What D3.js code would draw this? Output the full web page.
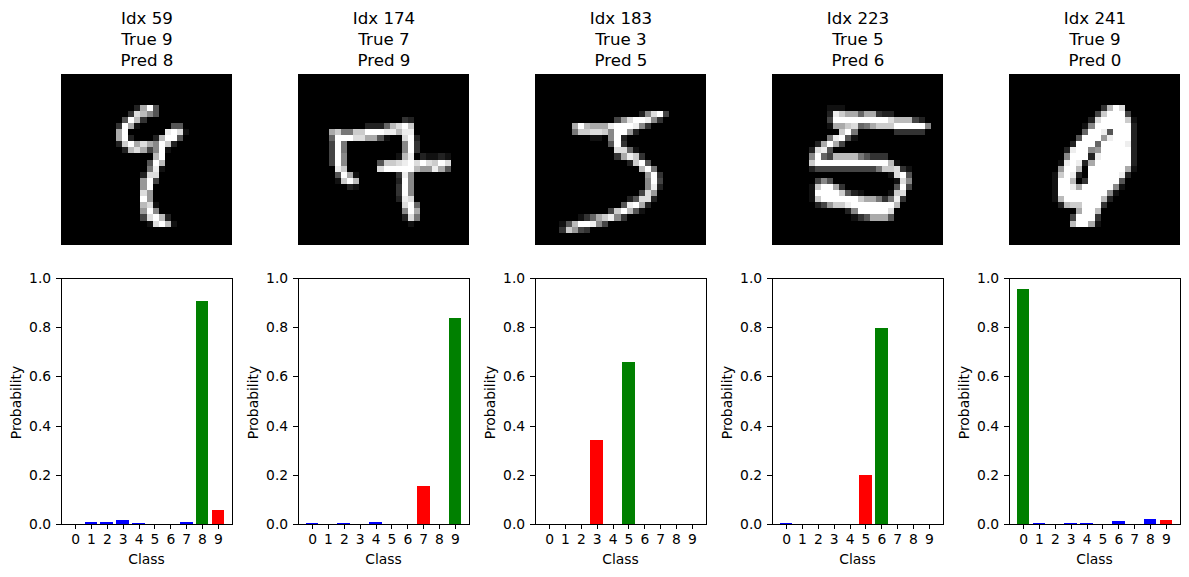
<!DOCTYPE html>
<html>
<head>
<meta charset="utf-8">
<script src="https://cdn.jsdelivr.net/npm/d3@7/dist/d3.min.js"></script>
<style>
html,body{margin:0;padding:0;background:#fff;}
svg{display:block;font-family:"DejaVu Sans",sans-serif;}
</style>
</head>
<body>
<svg id="chart" width="1189" height="577"></svg>
<script>
const sampleIdx = [59, 174, 183, 223, 241];
const trueLabels = [9, 7, 3, 5, 9];
const predLabels = [8, 9, 5, 6, 0];
const classes = [0, 1, 2, 3, 4, 5, 6, 7, 8, 9];
const yTicks = [0, 0.2, 0.4, 0.6, 0.8, 1.0];

const probs59  = [0, 0.008, 0.008, 0.016, 0.004, 0, 0, 0.008, 0.905, 0.057];
const probs174 = [0.004, 0, 0.004, 0, 0.008, 0, 0, 0.155, 0, 0.837];
const probs183 = [0, 0, 0, 0.34, 0, 0.66, 0, 0, 0, 0];
const probs223 = [0.004, 0, 0, 0, 0, 0.198, 0.797, 0, 0, 0];
const probs241 = [0.955, 0.004, 0, 0.004, 0.004, 0, 0.012, 0, 0.02, 0.016];
const allProbs = [probs59, probs174, probs183, probs223, probs241];

// Each row: [row, first column, grey levels 0-f for consecutive pixels]
const digit59 = [
 [5,12,"2af5"],[6,11,"3db85"],[7,10,"5fb3"],[8,9,"3fa1"],[8,18,"55"],
 [9,9,"af"],[9,17,"efd1"],[10,9,"af2"],[10,15,"2bff5"],
 [11,9,"2cfada8fc2"],[12,10,"2bda48f1"],[13,15,"bf"],[14,14,"5fb"],
 [15,14,"7e1"],[16,13,"2dd"],[17,13,"9f4"],[18,13,"9f"],[19,13,"d9"],
 [20,13,"f9"],[21,13,"bd1"],[22,13,"9f8"],[23,13,"4dfb2"],[24,14,"1dfb1"]
];
const digit174 = [
 [7,17,"32"],[8,11,"2226bdfc"],[9,5,"ac77ccfffeebee"],
 [10,5,"6fffddaa51"],[10,17,"df2"],[11,5,"4f7"],[11,17,"8f3"],
 [12,5,"4f7"],[12,17,"8f3"],[13,5,"4f8"],[13,16,"1be021121"],
 [14,5,"4f8"],[14,13,"5ccdefdfdcfd"],[15,6,"ec"],[15,13,"dfffffb99ea5"],
 [16,6,"5fa1"],[16,16,"3e8"],[17,6,"1cfb"],[17,16,"2f8"],[18,8,"21"],
 [18,16,"3f8"],[19,16,"3f8"],[20,16,"2ed"],[21,17,"df6"],[22,17,"8fa"],
 [23,17,"2d7"],[24,18,"1"]
];
const digit183 = [
 [6,17,"28df4"],[7,13,"49dffe83"],[8,6,"afbaaaefffe83"],
 [9,6,"7ccddc8ff92"],[10,9,"11"],[10,12,"8f2"],[11,12,"5f3"],
 [12,13,"dd61"],[13,13,"3aec3"],[14,15,"2cf5"],[15,17,"bf7"],
 [16,18,"9f3"],[17,18,"8f4"],[18,18,"8e2"],[19,17,"4d9"],
 [20,15,"25dd2"],[21,14,"5efa2"],[22,12,"4cfb51"],[23,7,"136ace83"],
 [24,4,"15bffe84"],[25,4,"3c943"]
];
const digit223 = [
 [5,9,"111"],[6,9,"2ecaa6aa322"],[7,9,"4fffffffffdbbb42"],
 [8,9,"1aacd67acccfffff8"],[9,11,"cf7"],[9,20,"33333"],
 [10,9,"7ef51"],[11,7,"2afa4"],[12,6,"2de5"],
 [13,6,"8f64bbbb75333"],[14,6,"cffffffffffffb1"],
 [15,6,"244444444447ccd31"],[16,19,"1df5"],[17,7,"485"],[17,20,"1d8"],
 [18,6,"1cffa3"],[18,20,"5f4"],[19,6,"1ffffc521"],[19,19,"1cd"],
 [20,6,"1cffffffcaa737e3"],[21,7,"249ccefffffffb"],
 [22,12,"28fffffd"],[23,13,"135aaa5"]
];
const digit241 = [
 [5,15,"3bfd"],[6,14,"4cfff4"],[7,13,"2dffffc1"],[8,12,"18ffffff2"],
 [9,12,"6ffe5fff2"],[10,11,"5fff9efff2"],[11,10,"2fff6ffffe2"],
 [12,9,"2eff89fffff2"],[13,9,"8fff2efffff2"],[14,8,"1efe2affffff2"],
 [15,8,"9ffb0ffffffa1"],[16,7,"1cfe20fffffe2"],[17,7,"1ffb03fffff5"],
 [18,7,"1ffeafffff81"],[19,7,"1ffffffff81"],[20,7,"1bffffffb2"],
 [21,8,"2bccfff3"],[22,11,"affb"],[23,10,"4fff3"],[24,10,"bffa1"]
];
const allDigits = [digit59, digit174, digit183, digit223, digit241];

const panelLefts = [61, 298, 535, 772, 1009];
const panelSize = 171;
const imgTop = 74;
const barTop = 278, barBottom = 524;
const titleSize = 16.67, tickSize = 13.89, labelSize = 13.89;

const svg = d3.select("#chart");
const pixel = d3.scaleLinear().domain([0, 28]).range([0, panelSize]);
const grey = d3.scaleLinear().domain([0, 15]).range([0, 255]);
const yScale = d3.scaleLinear().domain([0, 1]).range([barBottom, barTop]);

sampleIdx.forEach((idx, p) => {
  const left = panelLefts[p];
  const gImg = svg.append("g").attr("transform", `translate(${left},${imgTop})`);
  gImg.append("rect").attr("width", panelSize).attr("height", panelSize).attr("fill", "#000");

  const cells = [];
  allDigits[p].forEach(([r, c, s]) => {
    Array.from(s).forEach((ch, i) => {
      const v = parseInt(ch, 16);
      if (v > 0) cells.push({ r, c: c + i, v });
    });
  });
  gImg.selectAll("rect.cell").data(cells).enter().append("rect")
    .attr("class", "cell")
    .attr("shape-rendering", "crispEdges")
    .attr("x", d => Math.round(pixel(d.c)))
    .attr("y", d => Math.round(pixel(d.r)))
    .attr("width", d => Math.round(pixel(d.c + 1)) - Math.round(pixel(d.c)))
    .attr("height", d => Math.round(pixel(d.r + 1)) - Math.round(pixel(d.r)))
    .attr("fill", d => { const g = Math.round(grey(d.v)); return `rgb(${g},${g},${g})`; });

  const titleLines = [`Idx ${idx}`, `True ${trueLabels[p]}`, `Pred ${predLabels[p]}`];
  svg.append("g").selectAll("text").data(titleLines).enter().append("text")
    .attr("x", left + panelSize / 2 + 0.5)
    .attr("y", (d, i) => 24 + i * 21)
    .attr("text-anchor", "middle")
    .attr("font-size", titleSize)
    .attr("fill", "#000")
    .text(d => d);

  const x = d3.scaleLinear().domain([-0.89, 9.89]).range([left, left + panelSize]);
  const g = svg.append("g");
  const barW = x(0.8) - x(0);
  g.selectAll("rect.bar").data(allProbs[p]).enter().append("rect")
    .attr("class", "bar")
    .attr("shape-rendering", "crispEdges")
    .attr("x", (d, i) => x(classes[i]) - barW / 2)
    .attr("y", d => yScale(d))
    .attr("width", barW)
    .attr("height", d => yScale(0) - yScale(d))
    .attr("fill", (d, i) => classes[i] === predLabels[p] ? "green"
                          : classes[i] === trueLabels[p] ? "red" : "blue");

  const xAxis = d3.axisBottom(x).tickValues(classes).tickFormat(d3.format("d")).tickSize(5).tickPadding(4.86);
  const yAxis = d3.axisLeft(yScale).tickValues(yTicks).tickFormat(d3.format(".1f")).tickSize(5).tickPadding(4.86);
  const ax = g.append("g").attr("transform", `translate(0,${barBottom})`).call(xAxis);
  const ay = g.append("g").attr("transform", `translate(${left},0)`).call(yAxis);
  ax.select(".domain").remove();
  ay.select(".domain").remove();
  [ax, ay].forEach(a => {
    a.selectAll("text").attr("font-size", tickSize).attr("font-family", "DejaVu Sans").attr("fill", "#000");
    a.selectAll("line").attr("stroke", "#000").attr("stroke-width", 1).attr("shape-rendering", "crispEdges");
  });
  g.append("rect")
    .attr("x", left + 0.5).attr("y", barTop + 0.5)
    .attr("width", panelSize).attr("height", barBottom - barTop)
    .attr("fill", "none").attr("stroke", "#000").attr("stroke-width", 1)
    .attr("shape-rendering", "crispEdges");

  g.append("text")
    .attr("x", left + panelSize / 2).attr("y", 564)
    .attr("text-anchor", "middle").attr("font-size", labelSize).attr("fill", "#000")
    .text("Class");
  g.append("text")
    .attr("transform", `translate(${left - 40},${(barTop + barBottom) / 2 + 1.5}) rotate(-90)`)
    .attr("text-anchor", "middle").attr("font-size", labelSize).attr("fill", "#000")
    .text("Probability");
});
</script>
</body>
</html>
